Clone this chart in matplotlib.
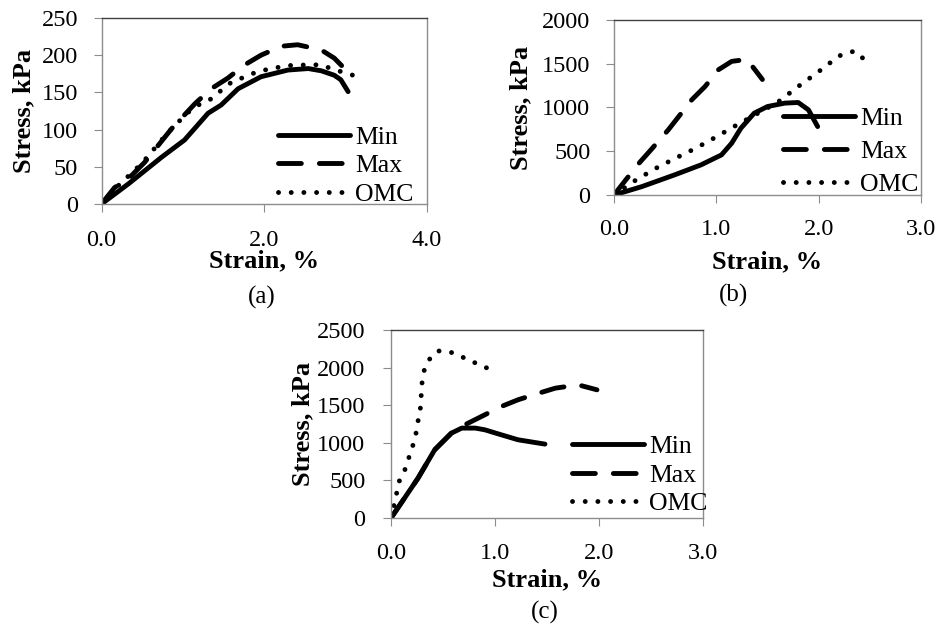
import matplotlib
matplotlib.use("Agg")
import matplotlib.pyplot as plt

plt.rcParams['font.family'] = ['Liberation Serif', 'DejaVu Serif']
plt.rcParams['font.size'] = 17.5

# ---- panel (a) ----
a_min_x = [0, 0.33, 0.74, 1.02, 1.31, 1.47, 1.68, 1.96, 2.29, 2.54, 2.70, 2.86, 2.94, 3.03]
a_min_y = [0, 27, 63, 86, 122, 133, 155, 171, 180, 182, 179, 173, 167, 151]
a_max_x = [0, 0.16, 0.33, 0.53, 0.86, 1.15, 1.35, 1.55, 1.76, 1.96, 2.21, 2.41, 2.70, 2.86, 2.95]
a_max_y = [0, 22, 34, 56, 101, 135, 155, 169, 187, 200, 212, 214, 207, 196, 186]
a_omc_x = [0, 0.2, 0.5, 0.8, 1.05, 1.19, 1.33, 1.43, 1.60, 1.72, 1.92, 2.09, 2.29, 2.54, 2.70, 2.82, 2.94, 3.09]
a_omc_y = [0, 24, 55, 94, 122, 133, 140, 149, 164, 169, 178, 182, 186, 187, 187, 182, 178, 173]

# ---- panel (b) ----
b_min_x = [0, 0.27, 0.59, 0.85, 1.05, 1.15, 1.24, 1.37, 1.50, 1.67, 1.80, 1.90, 1.99]
b_min_y = [0, 95, 229, 344, 458, 592, 763, 935, 1011, 1050, 1057, 973, 782]
b_max_x = [0, 0.1, 0.23, 0.36, 0.53, 0.62, 0.76, 0.89, 1.02, 1.15, 1.3, 1.45]
b_max_y = [0, 150, 344, 515, 744, 878, 1088, 1240, 1431, 1527, 1550, 1320]
b_omc_x = [0, 0.2, 0.4, 0.6, 0.8, 1.0, 1.2, 1.4, 1.6, 1.8, 2.0, 2.2, 2.35, 2.45]
b_omc_y = [0, 160, 300, 420, 535, 665, 800, 930, 1060, 1240, 1410, 1590, 1645, 1545]

# ---- panel (c) ----
c_min_x = [0, 0.13, 0.26, 0.42, 0.58, 0.68, 0.81, 0.90, 1.06, 1.22, 1.48]
c_min_y = [0, 265, 531, 907, 1128, 1195, 1195, 1173, 1106, 1040, 982]
c_max_x = [0, 0.13, 0.26, 0.42, 0.58, 0.71, 0.87, 1.06, 1.22, 1.42, 1.58, 1.80, 1.98]
c_max_y = [0, 265, 531, 907, 1128, 1239, 1350, 1482, 1571, 1659, 1726, 1770, 1704]
c_omc_x = [0, 0.05, 0.07, 0.13, 0.23, 0.25, 0.27, 0.29, 0.29, 0.30, 0.32, 0.37, 0.45, 0.56, 0.66, 0.77, 0.87, 0.98]
c_omc_y = [0, 296, 465, 628, 1049, 1204, 1380, 1513, 1668, 1823, 1969, 2111, 2221, 2212, 2155, 2088, 2022, 1965]

labels = ["Min", "Max", "OMC"]
GREY = "#8c8c8c"
LW = 3.5
TICK_FS = 17.5
LABEL_FS = 19

fig = plt.figure(figsize=(9.4, 6.28), dpi=100)

# axes boxes in figure fractions (measured from reference pixels)
ax_a = fig.add_axes([0.108, 0.6752, 0.3463, 0.2962])
ax_b = fig.add_axes([0.6532, 0.6895, 0.3266, 0.2787])
ax_c = fig.add_axes([0.416, 0.1752, 0.3319, 0.2994])


def draw(ax, series, xmax, xticks, ymax, ystep, ypad, xpad):
    styles = [
        dict(linestyle='-', solid_capstyle='round'),
        dict(linestyle=(0, (4.7, 3.7)), dash_capstyle='round'),
        dict(linestyle=(0, (0.01, 2.6)), dash_capstyle='round'),
    ]
    for (xs, ys), lab, st in zip(series, labels, styles):
        ax.plot(xs, ys, color='black', lw=LW, label=lab, **st)
    ax.set_xlim(0, xmax)
    ax.set_ylim(0, ymax)
    ax.set_xticks(xticks)
    ax.set_xticklabels(["%.1f" % t for t in xticks])
    ax.set_yticks(range(0, ymax + 1, ystep))
    for s in ax.spines.values():
        s.set_color(GREY)
        s.set_linewidth(1.0)
    ax.spines['top'].set_color('#404040')
    ax.tick_params(axis='both', direction='out', length=6, color=GREY, labelsize=TICK_FS)
    ax.tick_params(axis='y', pad=ypad)
    ax.tick_params(axis='x', pad=xpad)
    ax.set_xlabel("Strain, %", fontweight='bold', fontsize=LABEL_FS)
    ax.set_ylabel("Stress, kPa", fontweight='bold', fontsize=LABEL_FS)


draw(ax_a, [(a_min_x, a_min_y), (a_max_x, a_max_y), (a_omc_x, a_omc_y)],
     4.0, [0.0, 2.0, 4.0], 250, 50, 11, 12.5)
draw(ax_b, [(b_min_x, b_min_y), (b_max_x, b_max_y), (b_omc_x, b_omc_y)],
     3.0, [0.0, 1.0, 2.0, 3.0], 2000, 500, 11, 11)
draw(ax_c, [(c_min_x, c_min_y), (c_max_x, c_max_y), (c_omc_x, c_omc_y)],
     3.0, [0.0, 1.0, 2.0, 3.0], 2500, 500, 12.5, 12)

ax_a.yaxis.set_label_coords(-0.204, 0.5)
ax_b.yaxis.set_label_coords(-0.267, 0.5)
ax_c.yaxis.set_label_coords(-0.247, 0.5)
ax_a.xaxis.set_label_coords(0.5, -0.245)
ax_b.xaxis.set_label_coords(0.5, -0.314)
ax_c.xaxis.set_label_coords(0.5, -0.266)

# legends (no frame, partly sitting on the plot)
for ax, anchor, spacing in [(ax_a, (0.2957, 0.7357), 0.2),
                            (ax_b, (0.833, 0.758), 0.39),
                            (ax_c, (0.6085, 0.2436), 0.22)]:
    ax.legend(loc='center left', bbox_to_anchor=anchor, bbox_transform=fig.transFigure,
              frameon=False, borderpad=0, borderaxespad=0, handlelength=2.8,
              handletextpad=0.2, labelspacing=spacing, fontsize=18.5)

fig.text(262 / 940, 1 - 297 / 628, "(a)", ha='center', va='center', fontsize=18)
fig.text(733 / 940, 1 - 295 / 628, "(b)", ha='center', va='center', fontsize=18)
fig.text(545 / 940, 1 - 612 / 628, "(c)", ha='center', va='center', fontsize=18)

fig.savefig("out.png", dpi=100)
